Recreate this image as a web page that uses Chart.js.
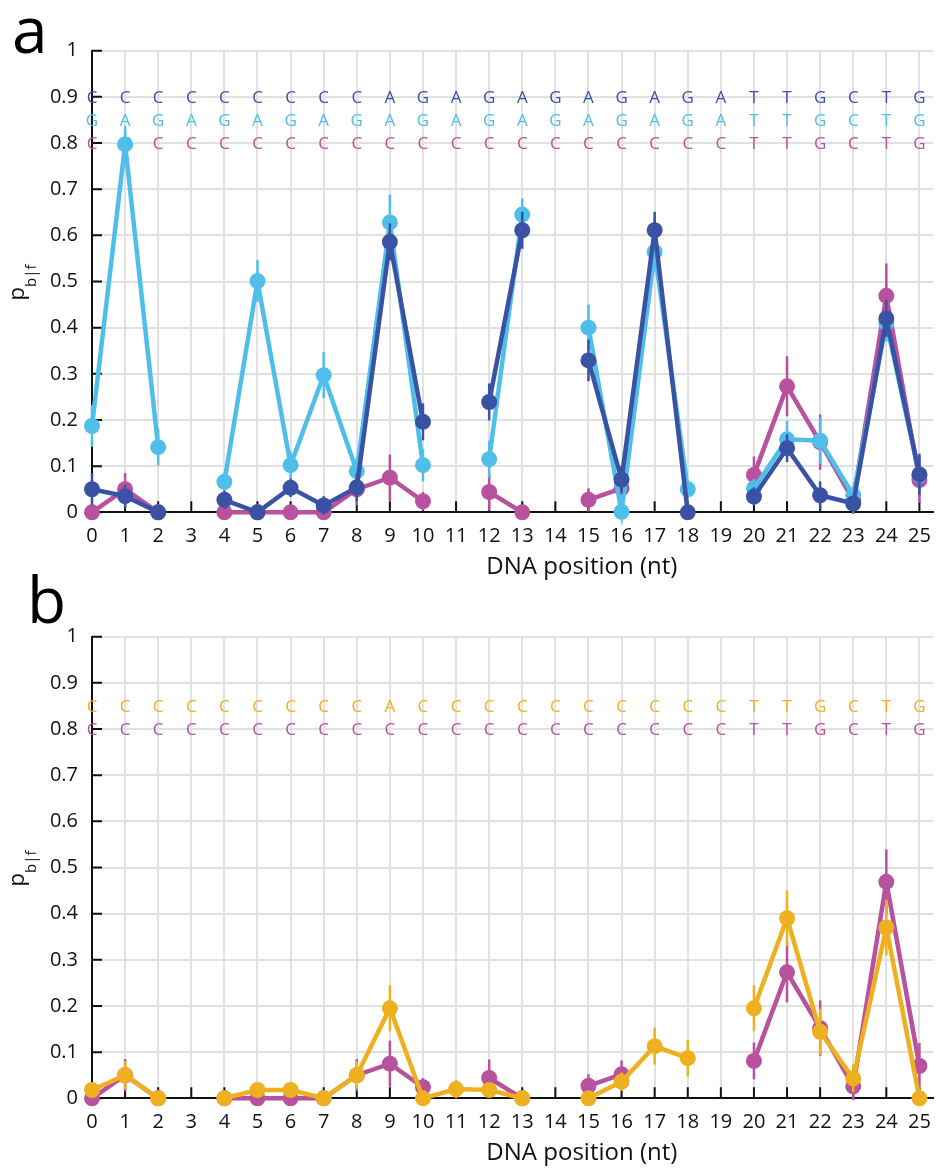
<!DOCTYPE html>
<html>
<head>
<meta charset="utf-8">
<script src="https://cdn.jsdelivr.net/npm/chart.js@4.4.1/dist/chart.umd.min.js"></script>
<style>
  body { margin: 0; background: #fff; width: 943px; height: 1169px; position: relative; overflow: hidden; }
  .panel { position: absolute; left: 0; width: 943px; }
</style>
</head>
<body>
<div class="panel" style="top:0;height:586px"><canvas id="chartA"></canvas></div>
<div class="panel" style="top:560px;height:609px"><canvas id="chartB"></canvas></div>
<script>
// DNA positions along the x axis (nt)
const positions = [0, 1, 2, 3, 4, 5, 6, 7, 8, 9, 10, 11, 12, 13, 14, 15, 16, 17, 18, 19, 20, 21, 22, 23, 24, 25];

// p(b|f) per position, null where nothing was measured
const darkBlue    = [0.050, 0.035, 0, null, 0.027, 0, 0.053, 0.015, 0.054, 0.586, 0.196, null, 0.239, 0.611, null, 0.329, 0.071, 0.611, 0, null, 0.034, 0.139, 0.037, 0.019, 0.420, 0.082];
const darkBlueErr = [0.035, 0.025, 0.005, null, 0.020, 0.005, 0.020, 0.020, 0.030, 0.040, 0.040, null, 0.040, 0.040, null, 0.045, 0.030, 0.040, 0.005, null, 0.020, 0.030, 0.030, 0.015, 0.040, 0.045];

const lightBlue    = [0.187, 0.797, 0.141, null, 0.066, 0.501, 0.102, 0.297, 0.089, 0.628, 0.102, null, 0.115, 0.645, null, 0.400, 0.001, 0.564, 0.050, null, 0.052, 0.158, 0.155, 0.037, 0.410, 0.080];
const lightBlueErr = [0.045, 0.040, 0.040, null, 0.020, 0.045, 0.030, 0.050, 0.030, 0.060, 0.035, null, 0.040, 0.035, null, 0.050, 0.010, 0.040, 0.020, null, 0.020, 0.040, 0.050, 0.020, 0.040, 0.030];

const magenta    = [0, 0.050, 0, null, 0, 0, 0, 0, 0.050, 0.075, 0.024, null, 0.044, 0, null, 0.027, 0.052, null, null, null, 0.081, 0.273, 0.152, 0.026, 0.469, 0.070];
const magentaErr = [0.005, 0.035, 0.005, null, 0.005, 0.005, 0.005, 0.005, 0.035, 0.050, 0.020, null, 0.040, 0.005, null, 0.025, 0.030, null, null, null, 0.040, 0.065, 0.060, 0.030, 0.070, 0.050];

const orange    = [0.018, 0.050, 0, null, 0, 0.018, 0.018, 0, 0.050, 0.195, 0, 0.020, 0.018, 0, null, 0, 0.036, 0.113, 0.087, null, 0.195, 0.390, 0.144, 0.043, 0.370, 0];
const orangeErr = [0.010, 0.030, 0.005, null, 0.005, 0.010, 0.010, 0.005, 0.030, 0.050, 0.005, 0.020, 0.010, 0.005, null, 0.005, 0.020, 0.040, 0.040, null, 0.050, 0.060, 0.050, 0.030, 0.060, 0.005];

// sequences printed above the traces, one letter per position
const seqDarkBlue  = 'CCCCCCCCCAGAGAGAGAGATTGCTG'.split('');
const seqLightBlue = 'GAGAGAGAGAGAGAGAGAGATTGCTG'.split('');
const seqMagenta   = 'CCCCCCCCCCCCCCCCCCCCTTGCTG'.split('');
const seqOrange    = 'CCCCCCCCCACCCCCCCCCCTTGCTG'.split('');

const yTicks = [0, 0.1, 0.2, 0.3, 0.4, 0.5, 0.6, 0.7, 0.8, 0.9, 1];

const C_DARK = '#3a52a4';
const C_LIGHT = '#4fbfea';
const C_MAG = '#b8519e';
const C_ORANGE = '#eeb01f';
const FONT = "'Open Sans', 'DejaVu Sans', sans-serif";

// vertical error bars, drawn just before each dataset's own line and dots
const errorBars = {
  id: 'errorBars',
  beforeDatasetDraw(chart, args) {
    const ds = chart.data.datasets[args.index];
    const ys = chart.scales.y;
    const ctx = chart.ctx;
    ctx.save();
    ctx.strokeStyle = ds.borderColor;
    ctx.lineWidth = 2.5;
    args.meta.data.forEach((pt, i) => {
      const v = ds.data[i].y;
      const e = ds.errors[i];
      if (v == null || e == null) return;
      ctx.beginPath();
      ctx.moveTo(pt.x, ys.getPixelForValue(v - e));
      ctx.lineTo(pt.x, ys.getPixelForValue(v + e));
      ctx.stroke();
    });
    ctx.restore();
  }
};

// sequence letters, inward axis ticks, axis titles and panel letter
const decorations = {
  id: 'decorations',
  beforeDatasetsDraw(chart, args, opts) {
    const ctx = chart.ctx;
    const xs = chart.scales.x, ys = chart.scales.y;
    const area = chart.chartArea;
    ctx.save();
    ctx.font = '17px ' + FONT;
    ctx.textAlign = 'center';
    ctx.textBaseline = 'middle';
    opts.rows.forEach(row => {
      ctx.fillStyle = row.color;
      row.letters.forEach((ch, i) => {
        ctx.fillText(ch, xs.getPixelForValue(positions[i]), ys.getPixelForValue(row.level) + 1);
      });
    });
    ctx.strokeStyle = '#111';
    ctx.lineWidth = 2;
    ctx.beginPath();
    yTicks.forEach(v => {
      const py = ys.getPixelForValue(v);
      ctx.moveTo(area.left, py);
      ctx.lineTo(area.left + 10, py);
    });
    positions.forEach(p => {
      const px = xs.getPixelForValue(p);
      ctx.moveTo(px, area.bottom);
      ctx.lineTo(px, area.bottom - 11);
    });
    ctx.stroke();
    ctx.restore();
  },
  afterDraw(chart, args, opts) {
    const ctx = chart.ctx;
    const xs = chart.scales.x;
    const area = chart.chartArea;
    ctx.save();
    ctx.fillStyle = '#111';
    // x axis title
    ctx.font = '24px ' + FONT;
    ctx.textAlign = 'center';
    ctx.textBaseline = 'middle';
    ctx.fillText('DNA position (nt)', xs.getPixelForValue(14.8), area.bottom + 55);
    // y axis title p_b|f
    ctx.translate(24, (area.top + area.bottom) / 2 + 1);
    ctx.rotate(-Math.PI / 2);
    ctx.textAlign = 'left';
    ctx.textBaseline = 'alphabetic';
    ctx.font = '22px ' + FONT;
    const wp = ctx.measureText('p').width;
    ctx.font = '15px ' + FONT;
    const ws = ctx.measureText('b|f').width;
    const x0 = -(wp + ws) / 2;
    ctx.font = '22px ' + FONT;
    ctx.fillText('p', x0, 0);
    ctx.font = '15px ' + FONT;
    ctx.fillText('b|f', x0 + wp, 12);
    ctx.restore();
    // panel letter
    ctx.save();
    ctx.fillStyle = '#000';
    ctx.font = '64px ' + FONT;
    ctx.textAlign = 'left';
    ctx.textBaseline = 'alphabetic';
    ctx.fillText(opts.label, opts.labelX, opts.labelY);
    ctx.restore();
  }
};

function series(values, errors, color) {
  return {
    data: positions.map((x, i) => ({ x: x, y: values[i] })),
    errors: errors,
    borderColor: color,
    backgroundColor: color,
    borderWidth: 4.5,
    pointRadius: 8,
    pointHoverRadius: 8,
    pointBorderWidth: 0,
    tension: 0,
    spanGaps: false,
    clip: false
  };
}

function buildChart(id, datasets, rows, padTop, xAxisHeight, label, labelX, labelY) {
  const gridColor = '#e1e1e1';
  return new Chart(document.getElementById(id), {
    type: 'line',
    data: { datasets: datasets },
    options: {
      responsive: true,
      maintainAspectRatio: false,
      animation: false,
      events: [],
      layout: { padding: { top: padTop, right: 0, bottom: 0, left: 0 } },
      plugins: {
        legend: { display: false },
        tooltip: { enabled: false },
        decorations: { rows: rows, label: label, labelX: labelX, labelY: labelY }
      },
      scales: {
        x: {
          type: 'linear',
          min: 0,
          max: 25.42,
          afterFit: s => { s.height = xAxisHeight; },
          ticks: {
            stepSize: 1, includeBounds: false, autoSkip: false, maxRotation: 0,
            padding: 12, color: '#111', font: { family: FONT, size: 20 }
          },
          grid: { color: gridColor, lineWidth: 2, drawTicks: false },
          border: { color: '#111', width: 2 }
        },
        y: {
          min: 0,
          max: 1,
          afterFit: s => { s.width = 92; },
          ticks: {
            stepSize: 0.1, padding: 14, color: '#111', font: { family: FONT, size: 20 },
            callback: v => String(+v.toFixed(1))
          },
          grid: { color: gridColor, lineWidth: 2, drawTicks: false },
          border: { color: '#111', width: 2 }
        }
      }
    },
    plugins: [errorBars, decorations]
  });
}

// panel a: three constructs, dark blue drawn on top
buildChart('chartA',
  [series(darkBlue, darkBlueErr, C_DARK), series(lightBlue, lightBlueErr, C_LIGHT), series(magenta, magentaErr, C_MAG)],
  [{ letters: seqDarkBlue, level: 0.9, color: C_DARK },
   { letters: seqLightBlue, level: 0.85, color: C_LIGHT },
   { letters: seqMagenta, level: 0.8, color: C_MAG }],
  50.7, 73.7, 'a', 12, 53);

// panel b: orange construct over the magenta reference
buildChart('chartB',
  [series(orange, orangeErr, C_ORANGE), series(magenta, magentaErr, C_MAG)],
  [{ letters: seqOrange, level: 0.85, color: C_ORANGE },
   { letters: seqMagenta, level: 0.8, color: C_MAG }],
  76.7, 70.7, 'b', 27, 63);
</script>
</body>
</html>
